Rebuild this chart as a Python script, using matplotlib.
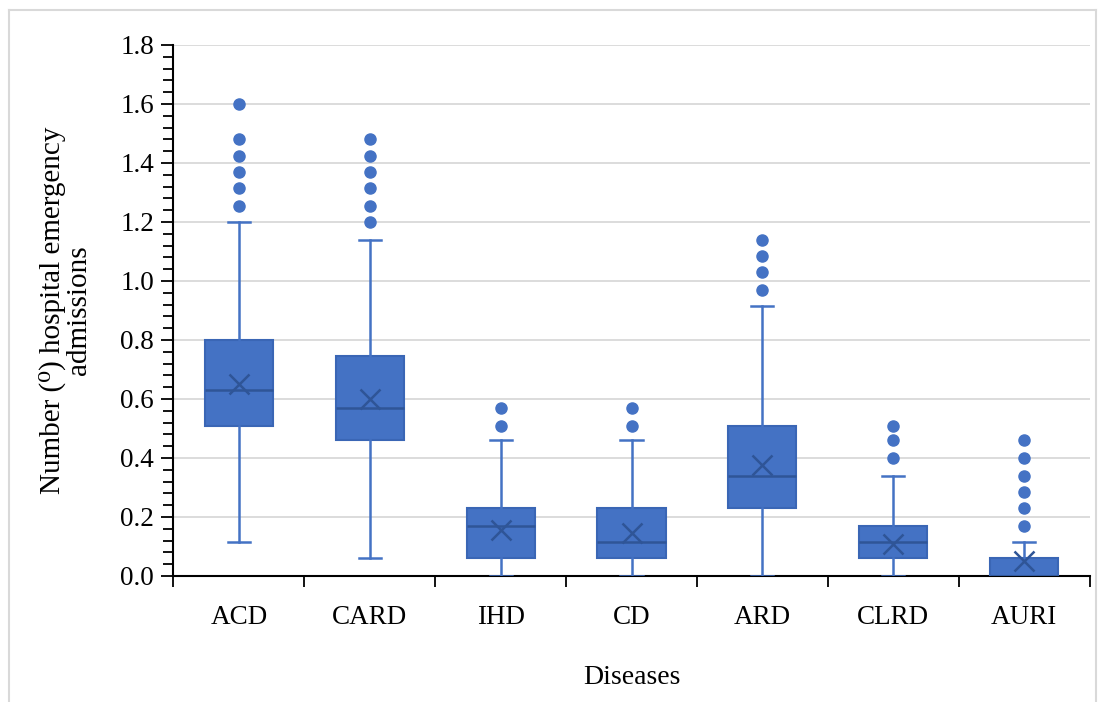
import matplotlib
matplotlib.use('Agg')
import matplotlib.pyplot as plt
from matplotlib.lines import Line2D
from matplotlib.ticker import MultipleLocator

# values
diseases = ['ACD', 'CARD', 'IHD', 'CD', 'ARD', 'CLRD', 'AURI']
whislo = [0.115, 0.06, 0.0, 0.0, 0.0, 0.0, 0.0]
q1 = [0.51, 0.46, 0.06, 0.06, 0.23, 0.06, 0.0]
median = [0.63, 0.57, 0.17, 0.115, 0.34, 0.115, 0.0]
q3 = [0.80, 0.745, 0.23, 0.23, 0.51, 0.17, 0.06]
whishi = [1.20, 1.14, 0.46, 0.46, 0.915, 0.34, 0.115]
mean = [0.65, 0.60, 0.155, 0.145, 0.375, 0.11, 0.05]
outliers = [
    [1.255, 1.315, 1.37, 1.425, 1.48, 1.60],
    [1.20, 1.255, 1.315, 1.37, 1.425, 1.48],
    [0.51, 0.57],
    [0.51, 0.57],
    [0.97, 1.03, 1.085, 1.14],
    [0.40, 0.46, 0.51],
    [0.17, 0.23, 0.285, 0.34, 0.40, 0.46],
]

BLUE = '#4472C4'
DARK = '#2F5597'
SERIF = ['Liberation Serif', 'DejaVu Serif']

plt.rcParams['font.family'] = SERIF

stats = []
for i, name in enumerate(diseases):
    stats.append({'label': name, 'whislo': whislo[i], 'q1': q1[i],
                  'med': median[i], 'q3': q3[i], 'whishi': whishi[i],
                  'mean': mean[i], 'fliers': outliers[i]})

fig = plt.figure(figsize=(11.05, 7.02), dpi=100)
ax = fig.add_axes([0.157, 0.1795, 0.829, 0.7565])

ax.bxp(stats, positions=range(1, len(diseases) + 1), widths=0.52,
       capwidths=0.17, patch_artist=True, showmeans=True, zorder=3,
       boxprops=dict(facecolor=BLUE, edgecolor='#3A66B5', linewidth=1.5),
       medianprops=dict(color=DARK, linewidth=1.8),
       whiskerprops=dict(color=BLUE, linewidth=1.8),
       capprops=dict(color=BLUE, linewidth=1.8),
       meanprops=dict(marker='x', markeredgecolor=DARK, markersize=14,
                      markeredgewidth=1.8),
       flierprops=dict(marker='o', markerfacecolor=BLUE,
                       markeredgecolor=BLUE, markersize=8))

ax.set_xlim(0.5, len(diseases) + 0.5)
ax.set_ylim(0, 1.8)
ax.yaxis.set_major_locator(MultipleLocator(0.2))
ax.yaxis.set_minor_locator(MultipleLocator(0.04))
ax.yaxis.set_major_formatter(matplotlib.ticker.FormatStrFormatter('%.1f'))
ax.grid(axis='y', color='#d9d9d9', linewidth=1.3, zorder=0)
ax.set_axisbelow(True)

# category boundary ticks on the x axis
ax.set_xticks(range(1, len(diseases) + 1))
ax.set_xticklabels(diseases)
ax.set_xticks([i + 0.5 for i in range(len(diseases) + 1)], minor=True)
ax.tick_params(axis='x', which='major', length=0, pad=21, labelsize=19.5)
ax.tick_params(axis='x', which='minor', length=8, width=1.3, direction='out')
ax.tick_params(axis='y', which='major', length=9, width=1.3, labelsize=19.5, pad=5)
ax.tick_params(axis='y', which='minor', length=7, width=1.3)

for s in ['top', 'right']:
    ax.spines[s].set_visible(False)
for s in ['left', 'bottom']:
    ax.spines[s].set_linewidth(1.5)
    ax.spines[s].set_color('black')

ax.set_xlabel('Diseases', fontsize=20, labelpad=25)
ax.set_ylabel('Number (\u2070) hospital emergency\nadmissions', fontsize=21,
              labelpad=20, linespacing=1.0)

# light frame around the chart area
for xs, ys in [([0.008, 0.008], [0.0, 0.986]),
               ([0.008, 0.992], [0.986, 0.986]),
               ([0.992, 0.992], [0.0, 0.986])]:
    fig.add_artist(Line2D(xs, ys, color='#d9d9d9', linewidth=1.5,
                          transform=fig.transFigure))

fig.savefig('out.png', dpi=100)
